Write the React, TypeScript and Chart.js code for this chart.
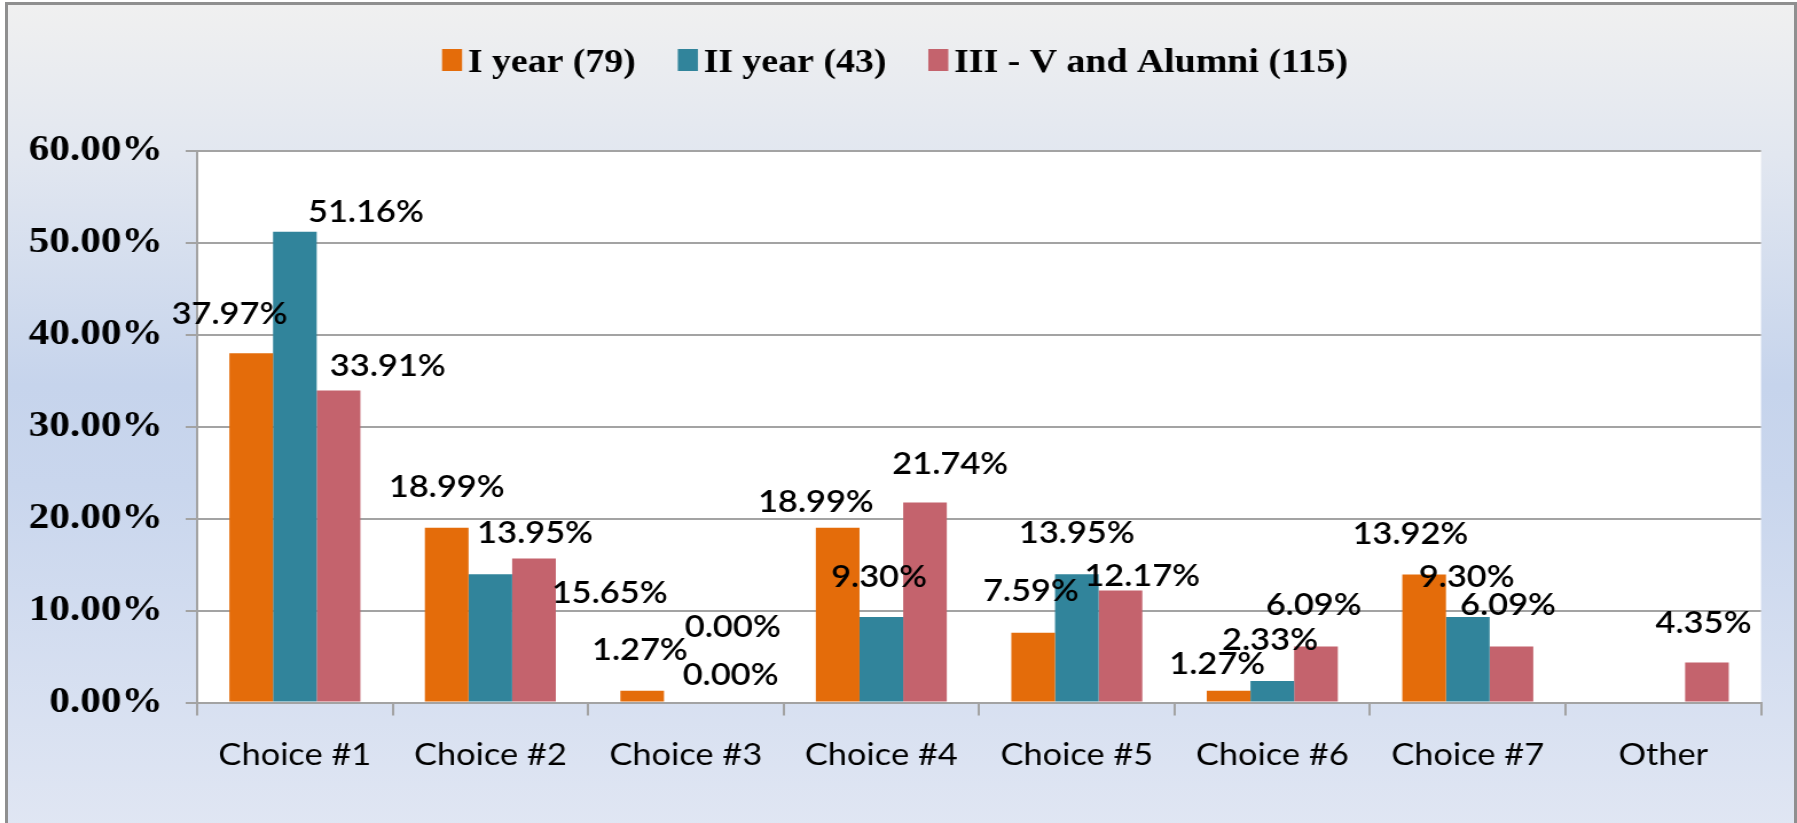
import React, { useEffect, useRef } from "react";
import { Chart, registerables } from "chart.js";

Chart.register(...registerables);

// ---- data ----
const categories = ["Choice #1", "Choice #2", "Choice #3", "Choice #4", "Choice #5", "Choice #6", "Choice #7", "Other"];
const seriesNames = ["I year (79)", "II year (43)", "III - V and Alumni (115)"];
const firstYear = [37.97, 18.99, 1.27, 18.99, 7.59, 1.27, 13.92, null];
const secondYear = [51.16, 13.95, 0.0, 9.3, 13.95, 2.33, 9.3, null];
const thirdYearAlumni = [33.91, 15.65, 0.0, 21.74, 12.17, 6.09, 6.09, 4.35];
const yTicks = [0, 10, 20, 30, 40, 50, 60];

// ---- style ----
const seriesColors = ["#E46C0A", "#31849B", "#C4636D"];
// label offsets (px, in drawing space) relative to the top-centre of each bar
const labelOffsets: ([number, number] | null)[][] = [
  [[-19, -40], [0, -42], [-2, -42], [-19, -27], [-2, -42], [-10, -28], [-12, -41], null],
  [[62, -21], [39, -42], [41, -76], [-2, -41], [0, -42], [-2, -42], [-1, -41], null],
  [[43, -25], [66, 34], [1, -28], [22, -39], [19, -15], [-2, -42], [-3, -42], [-3, -40]],
];

const W = 1797;
const H = 823;
const DRAW_W = 1568;
const SX = W / DRAW_W;

const plotBgPlugin = {
  id: "plotBg",
  beforeDraw(chart: any) {
    const { ctx, chartArea } = chart;
    ctx.save();
    ctx.fillStyle = "#ffffff";
    ctx.fillRect(chartArea.left, chartArea.top, chartArea.right - chartArea.left, chartArea.bottom - chartArea.top);
    ctx.restore();
  },
};

const legendPlugin = {
  id: "customLegend",
  afterDraw(chart: any) {
    const ctx = chart.ctx;
    ctx.save();
    ctx.font = 'bold 33px "Liberation Serif"';
    ctx.textBaseline = "alphabetic";
    ctx.textAlign = "left";
    const items = chart.data.datasets.map((ds: any) => ({
      text: ds.label,
      color: ds.backgroundColor,
      w: ctx.measureText(ds.label).width,
    }));
    const box = 17.5;
    const gap = 5;
    const spacing = 36.6;
    const total = items.reduce((s: number, it: any) => s + box + gap + it.w, 0) + spacing * (items.length - 1);
    let x = 781 - total / 2;
    for (const it of items) {
      ctx.fillStyle = it.color;
      ctx.fillRect(x, 49, box, 22);
      ctx.fillStyle = "#000000";
      ctx.fillText(it.text, x + box + gap, 72);
      x += box + gap + it.w + spacing;
    }
    ctx.restore();
  },
};

const dataLabelPlugin = {
  id: "dataLabels",
  afterDatasetsDraw(chart: any) {
    const ctx = chart.ctx;
    ctx.save();
    const size = 30;
    ctx.font = `600 ${size}px Lato`;
    ctx.fillStyle = "#000000";
    ctx.textAlign = "center";
    ctx.textBaseline = "alphabetic";
    chart.data.datasets.forEach((ds: any, di: number) => {
      const meta = chart.getDatasetMeta(di);
      meta.data.forEach((el: any, i: number) => {
        const v = ds.data[i];
        if (v === null || v === undefined) return;
        const off = labelOffsets[di][i] || [0, -42];
        ctx.fillText(v.toFixed(2) + "%", el.x + off[0], el.y + off[1] + size * 0.36);
      });
    });
    ctx.restore();
  },
};

export default function App() {
  const canvasRef = useRef<HTMLCanvasElement | null>(null);

  useEffect(() => {
    if (!canvasRef.current) return;
    const gridColor = "#a3a3a3";
    const chart = new Chart(canvasRef.current, {
      type: "bar",
      data: {
        labels: categories,
        datasets: [firstYear, secondYear, thirdYearAlumni].map((d, i) => ({
          label: seriesNames[i],
          data: d,
          backgroundColor: seriesColors[i],
          borderWidth: 0,
          categoryPercentage: 0.67,
          barPercentage: 1.0,
        })),
      },
      options: {
        animation: false,
        responsive: false,
        devicePixelRatio: 1,
        layout: { padding: { top: 150.5, right: 31.4, bottom: 0, left: 0 } },
        plugins: {
          legend: { display: false },
          tooltip: { enabled: false },
          title: { display: false },
        },
        scales: {
          x: {
            grid: {
              offset: true,
              drawOnChartArea: false,
              drawTicks: true,
              tickLength: 13,
              color: gridColor,
              lineWidth: 2,
            },
            border: { color: gridColor, width: 2 },
            ticks: {
              color: "#000000",
              font: { family: "Lato", size: 30 },
              padding: 22,
              maxRotation: 0,
              autoSkip: false,
            },
            afterFit: (scale: any) => {
              scale.height = 120.5;
            },
          },
          y: {
            min: 0,
            max: 60,
            afterBuildTicks: (scale: any) => {
              scale.ticks = yTicks.map((v) => ({ value: v }));
            },
            grid: {
              color: gridColor,
              lineWidth: 2,
              tickLength: 10,
              drawTicks: true,
            },
            border: { color: gridColor, width: 2 },
            ticks: {
              color: "#000000",
              font: { family: "Liberation Serif", size: 36, weight: "bold" },
              padding: 20,
              callback: (v: any) => Number(v).toFixed(2) + "%",
            },
            afterFit: (scale: any) => {
              scale.width = 172;
            },
          },
        },
      },
      plugins: [plotBgPlugin, dataLabelPlugin, legendPlugin],
    });
    return () => chart.destroy();
  }, []);

  return (
    <div
      style={{
        position: "fixed",
        left: 0,
        top: 0,
        width: W,
        height: H,
        overflow: "hidden",
        background: "#ffffff",
      }}
    >
      <div
        style={{
          position: "absolute",
          left: 5,
          top: 2,
          width: W - 5,
          height: 900,
          boxSizing: "border-box",
          border: "3px solid #8f8f8f",
          background:
            "linear-gradient(to bottom, #f0f0f0 0px, #e2e7f0 150px, #c6d4ec 380px, #c9d6ed 480px, #e0e6f3 823px, #e2e8f4 900px)",
        }}
      />
      <canvas
        ref={canvasRef}
        width={DRAW_W}
        height={H}
        style={{
          position: "absolute",
          left: 0,
          top: 0,
          width: DRAW_W,
          height: H,
          transform: `scaleX(${SX})`,
          transformOrigin: "0 0",
        }}
      />
    </div>
  );
}
